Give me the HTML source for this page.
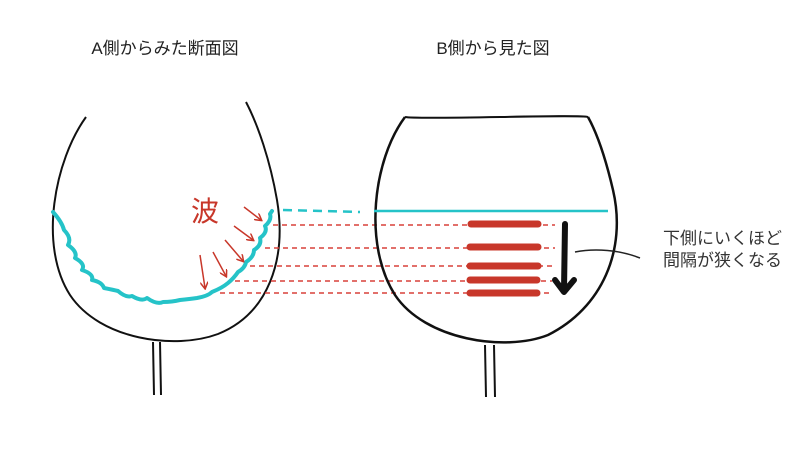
<!DOCTYPE html>
<html><head><meta charset="utf-8"><style>
body{margin:0;background:#fff;}
svg{display:block}
text{font-family:"Liberation Sans","Noto Sans CJK JP",sans-serif;}
</style></head><body>
<svg width="800" height="458" viewBox="0 0 800 458" xmlns="http://www.w3.org/2000/svg">
<defs><marker id="ah" markerWidth="8" markerHeight="8" refX="6" refY="4" orient="auto" markerUnits="userSpaceOnUse"><path d="M0,0 L7,4 L0,8" fill="none" stroke="#c8372a" stroke-width="1.5"/></marker></defs>
<text x="165" y="54" font-size="17" text-anchor="middle" fill="#222">A側からみた断面図</text>
<text x="493" y="54" font-size="17" text-anchor="middle" fill="#222">B側から見た図</text>
<!-- left glass -->
<path d="M86,117 C55,160 38,245 70,295 C100,340 175,350 218,334 C268,314 287,260 277,200 C270,160 258,125 246,102" fill="none" stroke="#111" stroke-width="2"/>
<path d="M153,342 L154,395 M160,342 L161,395" stroke="#111" stroke-width="2" fill="none"/>
<path d="M53,212 Q62,222 64,230 Q72,238 68,245 Q78,252 75,258 Q86,264 82,270 Q94,274 92,280 Q102,282 104,288 Q114,290 118,291 Q126,298 132,296 Q142,302 147,298 Q157,305 163,302 Q172,302 180,300 Q190,299 197,298 Q208,296 212,292 Q222,288 228,283 Q234,278 238,272 Q245,268 246,262 Q254,257 254,250 Q262,245 260,238 Q268,232 265,226 Q272,220 270,214 L272,211" fill="none" stroke="#25c3c8" stroke-width="4" stroke-linecap="round" stroke-linejoin="round"/>
<path d="M283,210 L360,212" stroke="#25c3c8" stroke-width="2.5" stroke-dasharray="9,6" fill="none"/>
<text x="205" y="221" font-size="28" text-anchor="middle" fill="#c8372a">波</text>
<g stroke="#c8372a" stroke-width="1.5" fill="none" marker-end="url(#ah)">
<path d="M244,207 L261,220"/>
<path d="M234,226 L253,240"/>
<path d="M225,240 L243,261"/>
<path d="M213,252 L226,276"/>
<path d="M200,255 L205,288"/>
</g>
<g stroke="#d8403a" stroke-width="1.5" stroke-dasharray="5,4">
<line x1="273" y1="225" x2="555" y2="225"/>
<line x1="265" y1="248" x2="555" y2="248"/>
<line x1="250" y1="266" x2="552" y2="266"/>
<line x1="235" y1="281" x2="552" y2="281"/>
<line x1="220" y1="293" x2="552" y2="293"/>
</g>
<!-- right glass -->
<path d="M405,117 C420,120 580,114 588,117" fill="none" stroke="#111" stroke-width="2"/>
<path d="M405,117 C373,160 363,245 395,295 C425,340 505,352 548,335 C602,308 627,250 613,190 C606,160 598,135 588,117" fill="none" stroke="#111" stroke-width="2.5"/>
<path d="M485,345 L486,397 M494,345 L495,397" stroke="#111" stroke-width="2" fill="none"/>
<path d="M374,211 L608,211" stroke="#25c3c8" stroke-width="2.5"/>
<g stroke="#c8372a" stroke-width="7" stroke-linecap="round">
<line x1="471" y1="224" x2="538" y2="224"/>
<line x1="470" y1="247" x2="538" y2="247"/>
<line x1="470" y1="266" x2="538" y2="266"/>
<line x1="470" y1="280" x2="537" y2="280"/>
<line x1="470" y1="293" x2="537" y2="293"/>
</g>
<path d="M565,224 L564,290 M555,280 L564,292 L574,280" stroke="#111" stroke-width="6" fill="none" stroke-linecap="round" stroke-linejoin="round"/>
<path d="M575,252 C595,248 620,250 640,258" stroke="#222" stroke-width="1.5" fill="none"/>
<text x="663" y="244" font-size="17" fill="#333">下側にいくほど</text>
<text x="663" y="266" font-size="17" fill="#333">間隔が狭くなる</text>
</svg>
</body></html>
